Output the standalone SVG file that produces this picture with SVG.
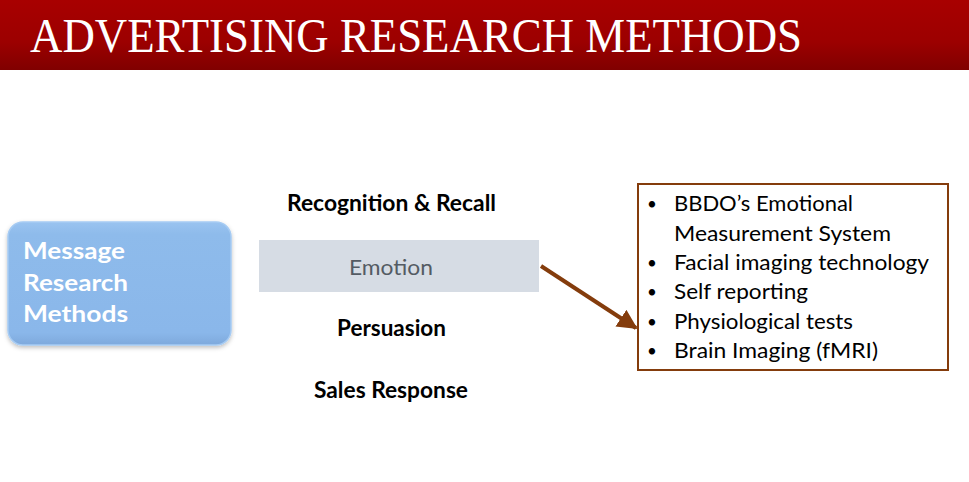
<svg xmlns="http://www.w3.org/2000/svg" width="969" height="482" viewBox="0 0 969 482">
<style>
.t{font-family:Lato,"Open Sans","Liberation Sans",sans-serif}
.b{font-weight:bold;font-size:22px;fill:#000}
.li{font-size:21px;fill:#000}
.bu{font-size:17px;fill:#000}
.blue{font-weight:bold;font-size:23.5px;fill:#fff}
.title{font-family:"Liberation Serif","DejaVu Serif",serif;fill:#fff}
</style>
<defs>
<linearGradient id="hdr" x1="0" y1="0" x2="0" y2="1">
<stop offset="0" stop-color="#a80000"/>
<stop offset="0.6" stop-color="#9c0000"/>
<stop offset="1" stop-color="#800000"/>
</linearGradient>
<linearGradient id="bl" x1="0" y1="0" x2="0" y2="1">
<stop offset="0" stop-color="#9ac3f0"/>
<stop offset="0.1" stop-color="#8ebbeb"/>
<stop offset="0.9" stop-color="#8ab7ea"/>
<stop offset="1" stop-color="#7ea9dc"/>
</linearGradient>
<filter id="sh" x="-10%" y="-10%" width="120%" height="130%">
<feDropShadow dx="0" dy="2" stdDeviation="2" flood-color="#000" flood-opacity="0.25"/>
</filter>
<marker id="ah" markerWidth="5" markerHeight="5" refX="4.5" refY="2.5" orient="auto" markerUnits="strokeWidth">
<path d="M0,0 L5,2.5 L0,5 Z" fill="#843c0c"/>
</marker>
</defs>
<g id="header">
<rect x="0" y="0" width="969" height="70" fill="url(#hdr)"/>
<text class="title" x="30" y="52" font-size="49" textLength="772" lengthAdjust="spacingAndGlyphs">ADVERTISING RESEARCH METHODS</text>
</g>
<g id="message-research-methods">
<rect x="8" y="222" width="223" height="123" rx="15" fill="url(#bl)" stroke="#a6cbf3" stroke-width="1.5" filter="url(#sh)"/>
<text class="t blue" x="23" y="259" textLength="102" lengthAdjust="spacingAndGlyphs">Message</text>
<text class="t blue" x="23" y="291" textLength="105" lengthAdjust="spacingAndGlyphs">Research</text>
<text class="t blue" x="23" y="322" textLength="105" lengthAdjust="spacingAndGlyphs">Methods</text>
</g>
<g id="recognition-recall">
<text class="t b" x="287" y="211" textLength="209" lengthAdjust="spacingAndGlyphs">Recognition &amp; Recall</text>
</g>
<g id="emotion">
<rect x="259" y="240" width="280" height="52" fill="#d6dce4"/>
<text class="t" x="349" y="275" font-size="22" fill="#545b63" textLength="84" lengthAdjust="spacingAndGlyphs">Emotion</text>
</g>
<g id="persuasion">
<text class="t b" x="337" y="336" textLength="109" lengthAdjust="spacingAndGlyphs">Persuasion</text>
</g>
<g id="sales-response">
<text class="t b" x="314" y="398" textLength="154" lengthAdjust="spacingAndGlyphs">Sales Response</text>
</g>
<g id="emotion-methods">
<rect x="638" y="184" width="310" height="186" fill="#fff" stroke="#843c0c" stroke-width="2"/>
<g class="t">
<text class="bu" x="647" y="210">•</text>
<text class="li" x="674" y="211" textLength="179" lengthAdjust="spacingAndGlyphs">BBDO’s Emotional</text>
<text class="li" x="674" y="241" textLength="217" lengthAdjust="spacingAndGlyphs">Measurement System</text>
<text class="bu" x="647" y="269">•</text>
<text class="li" x="674" y="270" textLength="255" lengthAdjust="spacingAndGlyphs">Facial imaging technology</text>
<text class="bu" x="647" y="298">•</text>
<text class="li" x="674" y="299" textLength="134" lengthAdjust="spacingAndGlyphs">Self reporting</text>
<text class="bu" x="647" y="328">•</text>
<text class="li" x="674" y="329" textLength="179" lengthAdjust="spacingAndGlyphs">Physiological tests</text>
<text class="bu" x="647" y="357">•</text>
<text class="li" x="674" y="358" textLength="204" lengthAdjust="spacingAndGlyphs">Brain Imaging (fMRI)</text>
</g>
</g>
<g id="connectors">
<line x1="541" y1="266" x2="636" y2="328" stroke="#843c0c" stroke-width="4" marker-end="url(#ah)"/>
</g>
</svg>
